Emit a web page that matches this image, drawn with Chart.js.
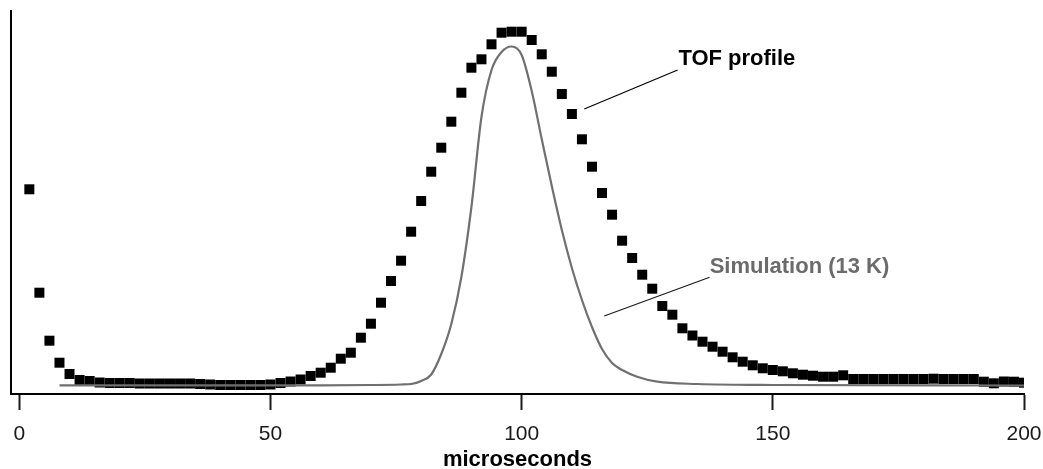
<!DOCTYPE html>
<html>
<head>
<meta charset="utf-8">
<script src="https://cdn.jsdelivr.net/npm/chart.js@4/dist/chart.umd.min.js"></script>
<style>
  html, body { margin: 0; padding: 0; background: #fff; }
  #wrap { width: 1043px; height: 469px; }
</style>
</head>
<body>
<div id="wrap"><canvas id="c" width="1043" height="469"></canvas></div>
<script>
// ---- data (time in microseconds, signal in arbitrary units) ----
const tofX = [2,4,6,8,10,12,14,16,18,20,22,24,26,28,30,32,34,36,38,40,
  42,44,46,48,50,52,54,56,58,60,62,64,66,68,70,72,74,76,78,80,
  82,84,86,88,90,92,94,96,98,100,102,104,106,108,110,112,114,116,118,120,
  122,124,126,128,130,132,134,136,138,140,142,144,146,148,150,152,154,156,158,160,
  162,164,166,168,170,172,174,176,178,180,182,184,186,188,190,192,194,196,198,200];
const tofY = [204.7,101.3,53.3,31.3,20,14,13,11.5,11,11,11,10.5,10.5,10.5,10.5,10.5,10.5,10,9.5,9,
  9,9,9,9,9.5,11,12.5,14.5,18,21.3,26.3,35.3,41.3,56.3,70.3,91.3,113,133.3,162.3,193,
  222.3,246.3,272.3,301.3,326.3,334.7,349.7,361.3,362.3,362.3,354,339.7,322.3,300,280,254.7,227.3,201,179.3,153.3,
  136,119.3,105.3,88,79.3,65.7,58.5,52.3,47.3,42.3,36.7,32.3,28.7,25.7,24,22.7,20.7,19.3,18.3,17.3,
  17.3,18.7,15,15,15,15,15,15,15,15,15.3,15,15,15,15,12.3,10.7,12.5,12.3,11.3];

const simX = [8,60,70,76,78,80,82,84,86,88,90,92,94,96,98,100,102,104,106,108,110,112,114,116,118,120,123,127,135,150,200];
const simY = [8.7,8.7,9,9.5,10,13,19.5,40,70,117,187,277,324,342,347.5,339,303,255,208,164,126,94,67,45,31,24,17.3,12.3,10,9,8.5];

const xTickValues = [0,50,100,150,200];
const xTitle = 'microseconds';

const labelTexts = ['TOF profile', 'Simulation (13 K)'];
const labelAnchors = [[131.2, 329.5], [137.42, 121]];
const leaderStarts = [[112.46, 285], [116.44, 78]];
const leaderEnds = [[131.05, 324], [137.42, 116.7]];

// ---- build ----
const FONT = "'Liberation Sans', Arial, Helvetica, sans-serif";
const tofData = tofX.map((x, i) => ({x, y: tofY[i]}));
const simData = simX.map((x, i) => ({x, y: simY[i]}));

const annotPlugin = {
  id: 'annot',
  afterDatasetsDraw(chart) {
    const {ctx} = chart;
    const xs = chart.scales.x, ys = chart.scales.y;
    const styles = [
      {text: '#000000', line: '#000000'},
      {text: '#6b6b6b', line: '#1a1a1a'}
    ];
    ctx.save();
    labelTexts.forEach((t, i) => {
      ctx.strokeStyle = styles[i].line;
      ctx.lineWidth = 1.2;
      ctx.beginPath();
      ctx.moveTo(xs.getPixelForValue(leaderStarts[i][0]), ys.getPixelForValue(leaderStarts[i][1]));
      ctx.lineTo(xs.getPixelForValue(leaderEnds[i][0]), ys.getPixelForValue(leaderEnds[i][1]));
      ctx.stroke();
      ctx.fillStyle = styles[i].text;
      ctx.font = "bold 22px " + FONT;
      ctx.textAlign = 'left';
      ctx.textBaseline = 'alphabetic';
      ctx.fillText(t, xs.getPixelForValue(labelAnchors[i][0]), ys.getPixelForValue(labelAnchors[i][1]));
    });
    ctx.restore();
  }
};

new Chart(document.getElementById('c'), {
  type: 'scatter',
  data: {
    datasets: [
      {
        label: 'Simulation (13 K)',
        type: 'line',
        data: simData,
        borderColor: '#707070',
        borderWidth: 2.2,
        pointRadius: 0,
        fill: false,
        cubicInterpolationMode: 'monotone'
      },
      {
        label: 'TOF profile',
        data: tofData,
        pointStyle: 'rect',
        pointRadius: 7.07,
        pointBorderWidth: 0,
        backgroundColor: '#000000',
        borderColor: '#000000',
        showLine: false
      }
    ]
  },
  options: {
    responsive: false,
    animation: false,
    devicePixelRatio: 1,
    layout: { padding: { top: 11, left: 0, right: 0, bottom: 0 } },
    plugins: { legend: { display: false }, tooltip: { enabled: false } },
    scales: {
      x: {
        type: 'linear',
        min: -1.65,
        max: 200,
        afterBuildTicks(scale) { scale.ticks = xTickValues.map(v => ({value: v})); },
        afterFit(scale) { scale.height = 75; scale.paddingLeft = 0; scale.paddingRight = 19; },
        ticks: {
          color: '#1a1a1a',
          font: { family: FONT, size: 21 },
          padding: 12,
          maxRotation: 0,
          autoSkip: false
        },
        grid: {
          display: true,
          drawOnChartArea: false,
          drawTicks: true,
          tickLength: 16,
          tickWidth: 2,
          tickColor: '#1a1a1a'
        },
        border: { display: true, color: '#000000', width: 2 },
        title: {
          display: true,
          text: xTitle,
          color: '#000000',
          font: { family: FONT, size: 22, weight: 'bold', lineHeight: 0.82 },
          padding: { top: 0, bottom: 0 }
        }
      },
      y: {
        type: 'linear',
        min: 0,
        max: 383,
        afterFit(scale) { scale.width = 11; },
        ticks: { display: false },
        grid: { display: false },
        border: { display: true, color: '#000000', width: 2 }
      }
    }
  },
  plugins: [annotPlugin]
});
</script>
</body>
</html>
